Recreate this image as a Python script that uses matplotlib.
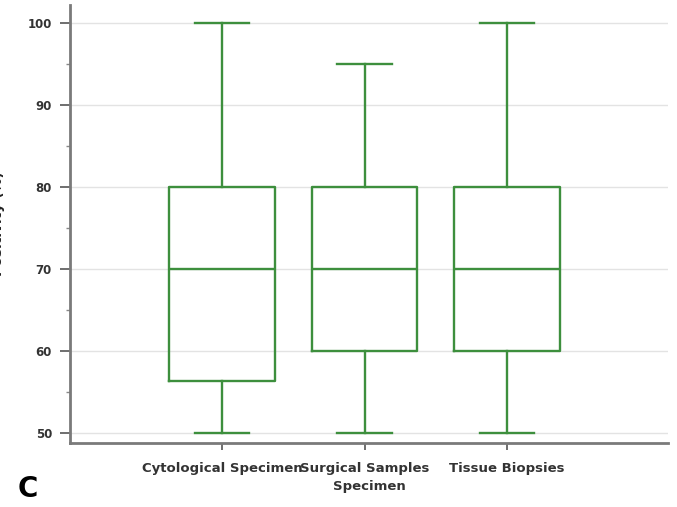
import matplotlib.pyplot as plt
from matplotlib.ticker import MultipleLocator

categories = ["Cytological Specimen", "Surgical Samples", "Tissue Biopsies"]
whislo = [50, 50, 50]
q1 = [56.3, 60, 60]
med = [70, 70, 70]
q3 = [80, 80, 80]
whishi = [100, 95, 100]

green = "#3d8f3d"
axis_gray = "#7a7a7a"

fig = plt.figure(figsize=(6.77, 5.07), dpi=100)
ax = fig.add_axes([70 / 677, (507 - 443) / 507, (668 - 70) / 677, (443 - 5) / 507])

stats = []
for i, name in enumerate(categories):
    stats.append(dict(label=name, whislo=whislo[i], q1=q1[i], med=med[i],
                      q3=q3[i], whishi=whishi[i], fliers=[]))

style = dict(color=green, linewidth=1.7)
ax.bxp(stats, positions=[1, 2, 3], widths=0.74, showfliers=False,
       boxprops=style, medianprops=style, whiskerprops=style,
       capprops=style, capwidths=0.38)

ax.set_xlim(-0.067, 4.13)
ax.set_ylim(48.8, 102.2)
ax.yaxis.set_major_locator(MultipleLocator(10))
ax.yaxis.set_minor_locator(MultipleLocator(5))
ax.grid(axis="y", which="major", color="#e3e3e3", linewidth=1)
ax.set_axisbelow(True)

for s in ["top", "right"]:
    ax.spines[s].set_visible(False)
for s in ["left", "bottom"]:
    ax.spines[s].set_color(axis_gray)
    ax.spines[s].set_linewidth(2)

ax.tick_params(axis="both", which="major", length=5, width=1.2, color="#555555",
               labelcolor="#333333")
ax.tick_params(axis="y", which="major", length=7, labelsize=8.5, pad=6)
ax.tick_params(axis="y", which="minor", length=3, width=1, color="#888888")
ax.tick_params(axis="x", labelsize=9.5, pad=9)
for lab in ax.get_yticklabels() + ax.get_xticklabels():
    lab.set_fontweight("bold")

ax.set_xlabel("Specimen", fontsize=9.5, fontweight="bold", color="#333333", labelpad=3)
# y label is clipped at the left edge, as in the source figure
fig.text(-0.014, (507 - 224) / 507, "Positivity (%)", rotation=90,
         ha="left", va="center", fontsize=10, fontweight="bold", color="#222222")

fig.text(18 / 677, (507 - 497) / 507, "C", fontsize=20, fontweight="bold", color="black")

fig.savefig("out.png", dpi=100)
